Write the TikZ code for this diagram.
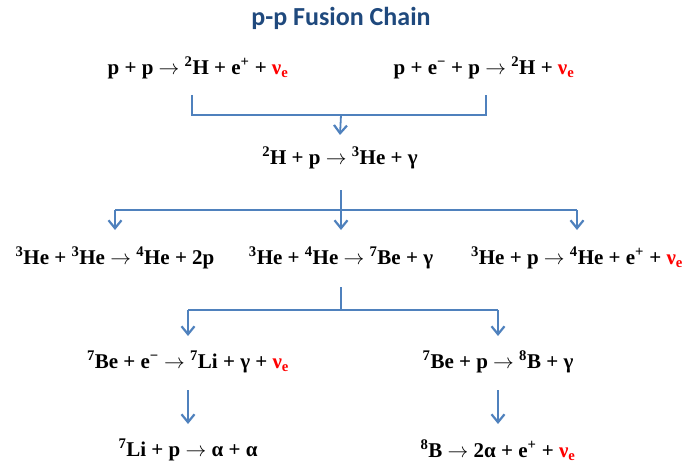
\documentclass[tikz,border=0pt]{standalone}
\usepackage{fontspec}
\setmainfont{Liberation Serif}
\newfontfamily\titlefont{Carlito}
\usetikzlibrary{arrows.meta,positioning}

\definecolor{flowblue}{RGB}{79,129,189}
\definecolor{titleblue}{RGB}{31,73,125}
\definecolor{nured}{RGB}{255,0,0}

\newcommand{\nue}{\textcolor{nured}{ν\textsubscript{e}}}
\newcommand{\iso}[2]{\textsuperscript{#1}#2}
\newcommand{\yields}{~$\rightarrow$~}

\tikzset{
  eq/.style={inner sep=0pt, font=\fontsize{21}{24}\selectfont\bfseries},
  title/.style={inner sep=0pt, text=titleblue, font=\fontsize{26}{30}\selectfont\titlefont\bfseries},
  conn/.style={draw=flowblue, line width=1.8pt},
  arr/.style={conn, -{Straight Barb[length=8pt,width=13pt,line width=2.2pt]}}
}

\begin{document}
\begin{tikzpicture}[x=1pt,y=-1pt]
\useasboundingbox (0,0) rectangle (684,465);

% title
\node[title] (title) at (341,18) {p-p Fusion Chain};

% first step
\node[eq] (pp)  at (198,68) {p + p\yields\iso{2}{H} + e\textsuperscript{+} + \nue};
\node[eq] (pep) at (484,68) {p + e\textsuperscript{−} + p\yields\iso{2}{H} + \nue};
\node[eq] (dp)  at (340,158) {\iso{2}{H} + p\yields\iso{3}{He} + γ};

% branches
\node[eq] (hehe)  at (115,258) {\iso{3}{He} + \iso{3}{He}\yields\iso{4}{He} + 2p};
\node[eq] (hebe)  at (341,258) {\iso{3}{He} + \iso{4}{He}\yields\iso{7}{Be} + γ};
\node[eq] (hep)   at (577,258) {\iso{3}{He} + p\yields\iso{4}{He} + e\textsuperscript{+} + \nue};

\node[eq] (bee)   at (188,362) {\iso{7}{Be} + e\textsuperscript{−}\yields\iso{7}{Li} + γ + \nue};
\node[eq] (bep)   at (498,362) {\iso{7}{Be} + p\yields\iso{8}{B} + γ};
\node[eq] (lip)   at (188,450) {\iso{7}{Li} + p\yields α + α};
\node[eq] (bdec)  at (498,450) {\iso{8}{B}\yields 2α + e\textsuperscript{+} + \nue};

% joints and arrow levels
\coordinate (j1l) at (192,95);
\coordinate (j1r) at (486,95);
\coordinate (j1)  at (341,115);
\coordinate (a1)  at (341,135);
\coordinate (j2t) at (341,190);
\coordinate (j2)  at (341,210);
\coordinate (a2)  at (341,230);
\coordinate (j3t) at (341,287);
\coordinate (j3)  at (341,310);
\coordinate (a3)  at (341,336);
\coordinate (s4)  at (341,390);
\coordinate (a4)  at (341,424);

% connectors
\draw[conn] (j1l) |- (j1r |- j1) -- (j1r);
\draw[arr] (j1) -- (dp.north |- a1);

\draw[conn] (j2t) -- (j2);
\draw[conn] (hehe.north |- j2) -- (hep.north |- j2);
\draw[arr] (hehe.north |- j2) -- (hehe.north |- a2);
\draw[arr] (j2) -- (hebe.north |- a2);
\draw[arr] (hep.north |- j2) -- (hep.north |- a2);

\draw[conn] (j3t) -- (j3);
\draw[conn] (bee.north |- j3) -- (bep.north |- j3);
\draw[arr] (bee.north |- j3) -- (bee.north |- a3);
\draw[arr] (bep.north |- j3) -- (bep.north |- a3);

\draw[arr] (bee.south |- s4) -- (lip.north |- a4);
\draw[arr] (bep.south |- s4) -- (bdec.north |- a4);
\end{tikzpicture}
\end{document}
